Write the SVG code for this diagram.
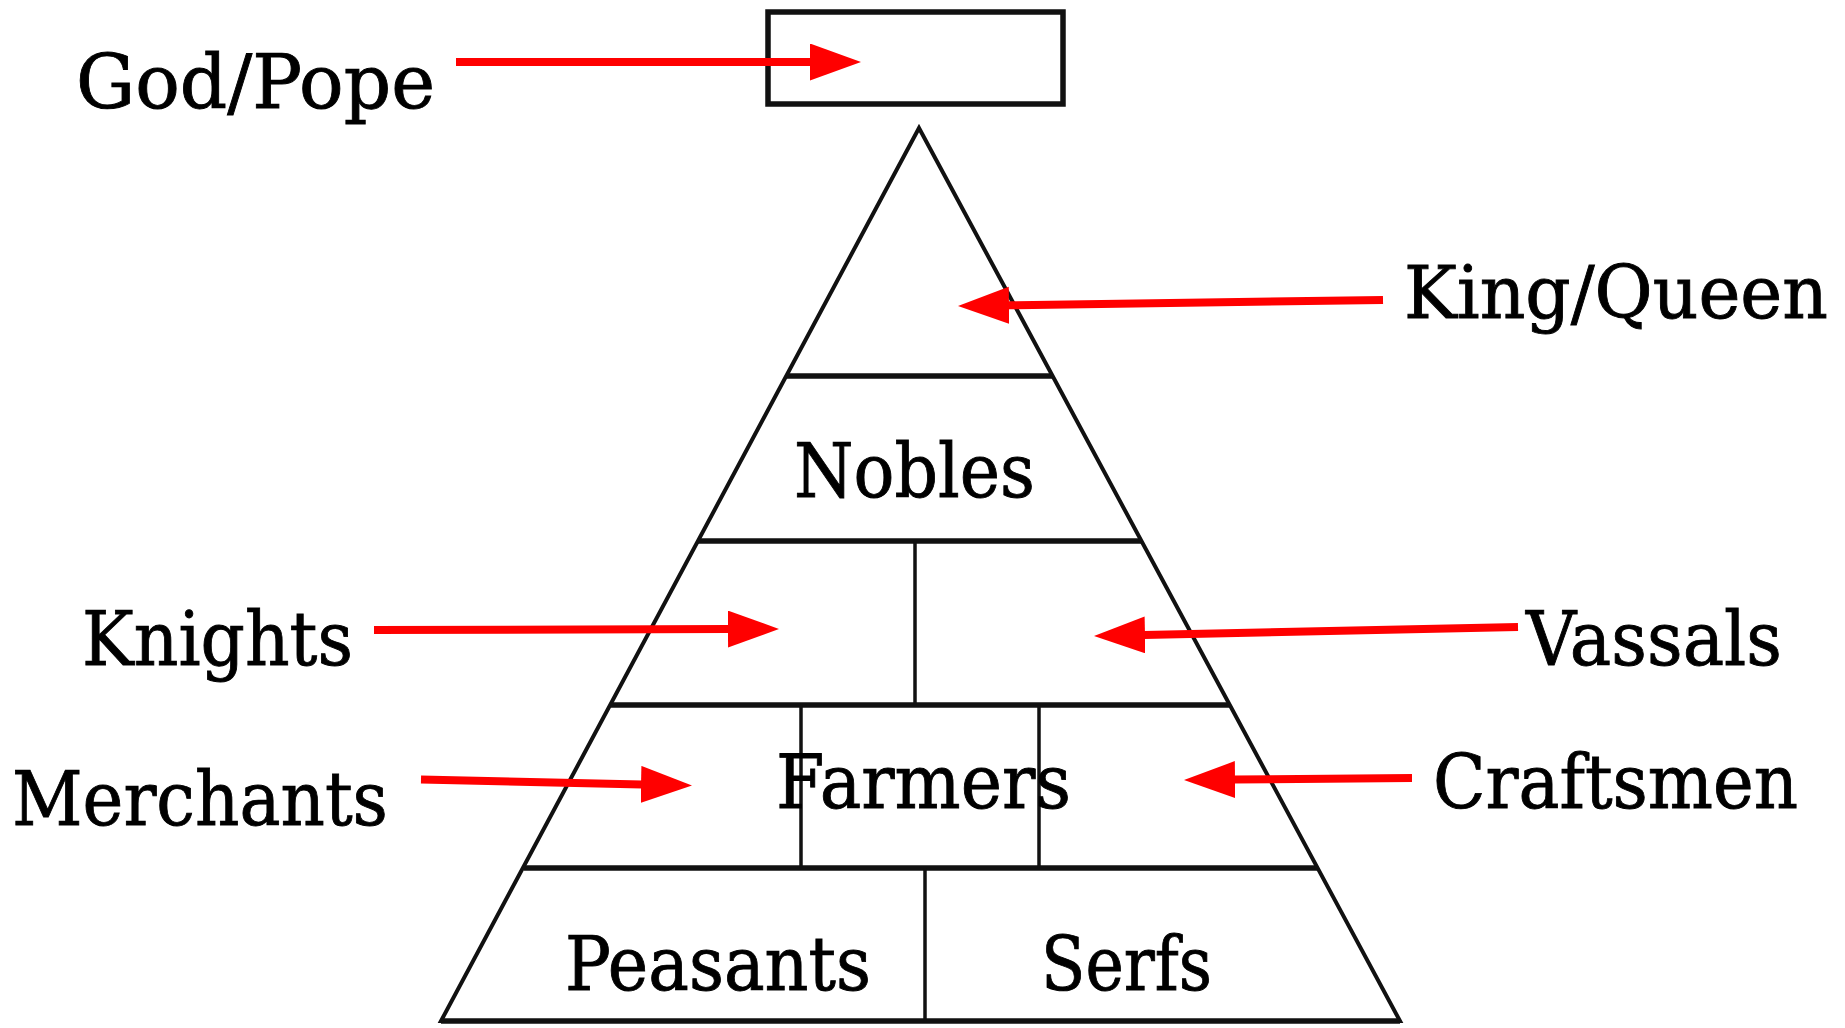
<svg xmlns="http://www.w3.org/2000/svg" width="1845" height="1028" viewBox="0 0 1845 1028">
<style>
.lbl{font-family:"DejaVu Serif","Liberation Serif",serif;font-size:75px;fill:#000;stroke:#000;stroke-width:0.9}
.edge{fill:none;stroke:#111;stroke-width:4;stroke-linejoin:miter}
.tier{stroke:#111;stroke-width:5.5}
.div{stroke:#111;stroke-width:3.5}
.arr{stroke:#ff0000;stroke-width:8;fill:none;marker-end:url(#ah)}
</style>
<defs>
<marker id="ah" markerUnits="userSpaceOnUse" markerWidth="53" markerHeight="38" refX="1" refY="18.5" orient="auto" viewBox="0 0 53 38">
<path d="M0,0 L51,18.5 L0,37 Z" fill="#ff0000"/>
</marker>
</defs>
<g id="god-pope-box"><rect x="768" y="12" width="295" height="92" fill="#fff" stroke="#111" stroke-width="5.5"/></g>
<g id="pyramid">
<polygon class="edge" points="919,128 441,1021 1400,1021"/>
<line class="tier" x1="786" y1="376" x2="1053" y2="376"/>
<line class="tier" x1="698" y1="541" x2="1141" y2="541"/>
<line class="tier" x1="611" y1="705" x2="1229" y2="705"/>
<line class="tier" x1="524" y1="868" x2="1317" y2="868"/>
<line class="tier" x1="441" y1="1021" x2="1400" y2="1021"/>
<line class="div" x1="915" y1="541" x2="915" y2="705"/>
<line class="div" x1="801" y1="705" x2="801" y2="868"/>
<line class="div" x1="1039" y1="705" x2="1039" y2="868"/>
<line class="div" x1="925" y1="868" x2="925" y2="1021"/>
</g>
<g id="labels">
<text class="lbl" x="76" y="108" textLength="359" lengthAdjust="spacingAndGlyphs">God/Pope</text>
<text class="lbl" x="1404" y="318" font-size="72" style="font-size:72px" textLength="424" lengthAdjust="spacingAndGlyphs">King/Queen</text>
<text class="lbl" x="794" y="497" textLength="241" lengthAdjust="spacingAndGlyphs">Nobles</text>
<text class="lbl" x="82" y="665" textLength="271" lengthAdjust="spacingAndGlyphs">Knights</text>
<text class="lbl" x="1526" y="665" textLength="256" lengthAdjust="spacingAndGlyphs">Vassals</text>
<text class="lbl" x="12" y="825" textLength="376" lengthAdjust="spacingAndGlyphs">Merchants</text>
<text class="lbl" x="776" y="808" textLength="295" lengthAdjust="spacingAndGlyphs">Farmers</text>
<text class="lbl" x="1433" y="808" textLength="365" lengthAdjust="spacingAndGlyphs">Craftsmen</text>
<text class="lbl" x="565" y="990" textLength="306" lengthAdjust="spacingAndGlyphs">Peasants</text>
<text class="lbl" x="1041" y="990" textLength="171" lengthAdjust="spacingAndGlyphs">Serfs</text>
</g>
<g id="connectors">
<line class="arr" x1="456" y1="62" x2="811" y2="62"/>
<line class="arr" x1="1383" y1="300" x2="1008" y2="305.3"/>
<line class="arr" x1="374" y1="630" x2="729" y2="629.1"/>
<line class="arr" x1="1518" y1="627" x2="1144" y2="634.9"/>
<line class="arr" x1="421" y1="779.5" x2="642" y2="784.4"/>
<line class="arr" x1="1412" y1="778" x2="1234" y2="779.6"/>
</g>
</svg>
